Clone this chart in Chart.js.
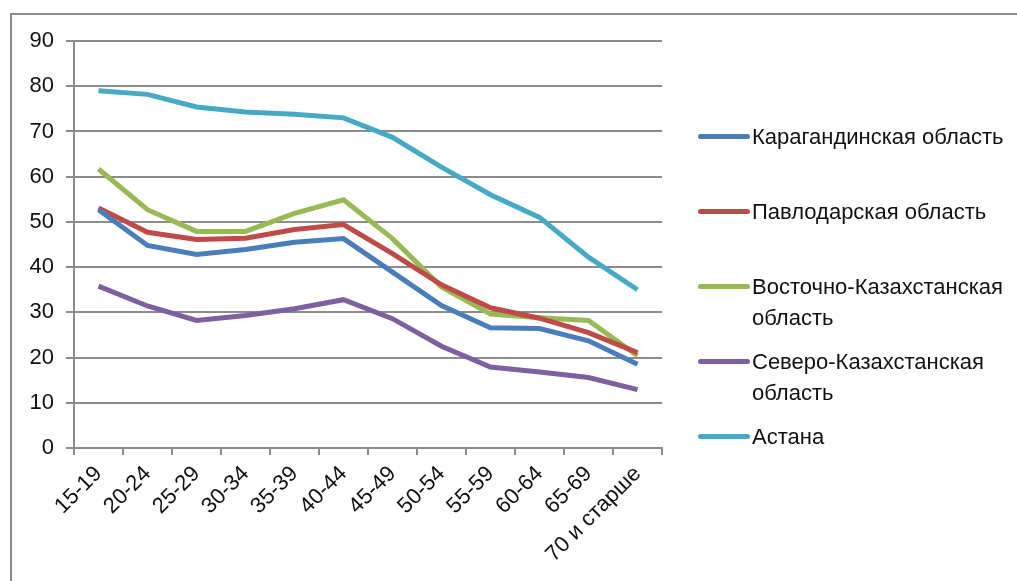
<!DOCTYPE html>
<html>
<head>
<meta charset="utf-8">
<script src="https://cdn.jsdelivr.net/npm/chart.js@4.4.0/dist/chart.umd.min.js"></script>
<style>
    body { margin: 0; background: #fff; }
    #wrap { position: relative; width: 1017px; height: 581px; overflow: hidden; }
    #frame { position: absolute; left: 10px; top: 13px; width: 1100px; height: 700px;
             border-left: 2px solid #8c8c8c; border-top: 2px solid #8c8c8c; }
    #legend { position: absolute; left: 0; top: 0; }
    .item { position: absolute; left: 698px; width: 319px; }
    .swatch { position: absolute; left: 0; top: 13px; width: 52px; height: 5px; border-radius: 3px; }
    .label { position: absolute; left: 54px; width: 265px; font: 22px "Liberation Sans", Arial, sans-serif;
             line-height: 31px; color: #111; }
</style>
</head>
<body>
<div id="wrap">
    <div id="frame"></div>
    <canvas id="myChart"></canvas>
    <div id="legend"></div>
</div>
<script>
const ageGroups = ['15-19', '20-24', '25-29', '30-34', '35-39', '40-44', '45-49', '50-54', '55-59', '60-64', '65-69', '70 и старше'];
const seriesNames = ['Карагандинская область', 'Павлодарская область', 'Восточно-Казахстанская область', 'Северо-Казахстанская область', 'Астана'];
const karaganda = [52.7, 44.8, 42.8, 43.9, 45.5, 46.3, 38.9, 31.5, 26.6, 26.4, 23.7, 18.5];
const pavlodar = [53.1, 47.7, 46.1, 46.4, 48.3, 49.4, 43.0, 36.1, 31.0, 28.7, 25.5, 21.1];
const vko = [61.7, 52.7, 47.9, 47.9, 51.9, 54.9, 46.3, 35.6, 29.6, 28.8, 28.2, 20.4];
const sko = [35.8, 31.4, 28.2, 29.3, 30.8, 32.8, 28.6, 22.5, 17.9, 16.8, 15.6, 12.9];
const astana = [79.0, 78.2, 75.4, 74.3, 73.8, 73.0, 68.7, 62.1, 56.0, 51.0, 42.2, 35.0];
const yTicks = [0, 10, 20, 30, 40, 50, 60, 70, 80, 90];

const colors = ['#4a7ebb', '#be4b48', '#98b954', '#7d60a0', '#46aac5'];
const allSeries = [karaganda, pavlodar, vko, sko, astana];
const gridColor = '#8c8c8c';
const font = { family: '"Liberation Sans", Arial, sans-serif', size: 22 };

const datasets = allSeries.map((values, i) => ({
    label: seriesNames[i],
    data: values,
    borderColor: colors[i],
    backgroundColor: colors[i],
    borderWidth: 5,
    pointRadius: 0,
    tension: 0,
    fill: false,
}));

const canvas = document.getElementById('myChart');
new Chart(canvas, {
    type: 'line',
    data: { labels: ageGroups, datasets },
    options: {
        responsive: true,
        maintainAspectRatio: false,
        animation: false,
        layout: { padding: { left: 10, right: 355, top: 41, bottom: 0 } },
        plugins: { legend: { display: false }, tooltip: { enabled: false } },
        scales: {
            x: {
                offset: true,
                grid: { display: true, drawOnChartArea: false, offset: true, color: gridColor, lineWidth: 2, tickLength: 7 },
                border: { color: gridColor, width: 2 },
                ticks: { font, color: '#111', minRotation: 45, maxRotation: 45, padding: 6, autoSkip: false },
                afterFit: s => { s.height = 133; },
            },
            y: {
                min: 0,
                max: 90,
                afterBuildTicks: s => { s.ticks = yTicks.map(v => ({ value: v })); },
                grid: { color: gridColor, lineWidth: 2, tickLength: 8 },
                border: { color: gridColor, width: 2 },
                ticks: { font, color: '#111', padding: 12 },
                afterFit: s => { s.width = 64; },
            },
        },
    },
});

// legend built from the series names, placed like the original
const legend = document.getElementById('legend');
seriesNames.forEach((name, i) => {
    const item = document.createElement('div');
    item.className = 'item';
    item.style.top = (121 + 75 * i) + 'px';
    item.innerHTML = `<span class="swatch" style="background:${colors[i]}"></span><span class="label">${name}</span>`;
    legend.appendChild(item);
});
</script>
</body>
</html>
